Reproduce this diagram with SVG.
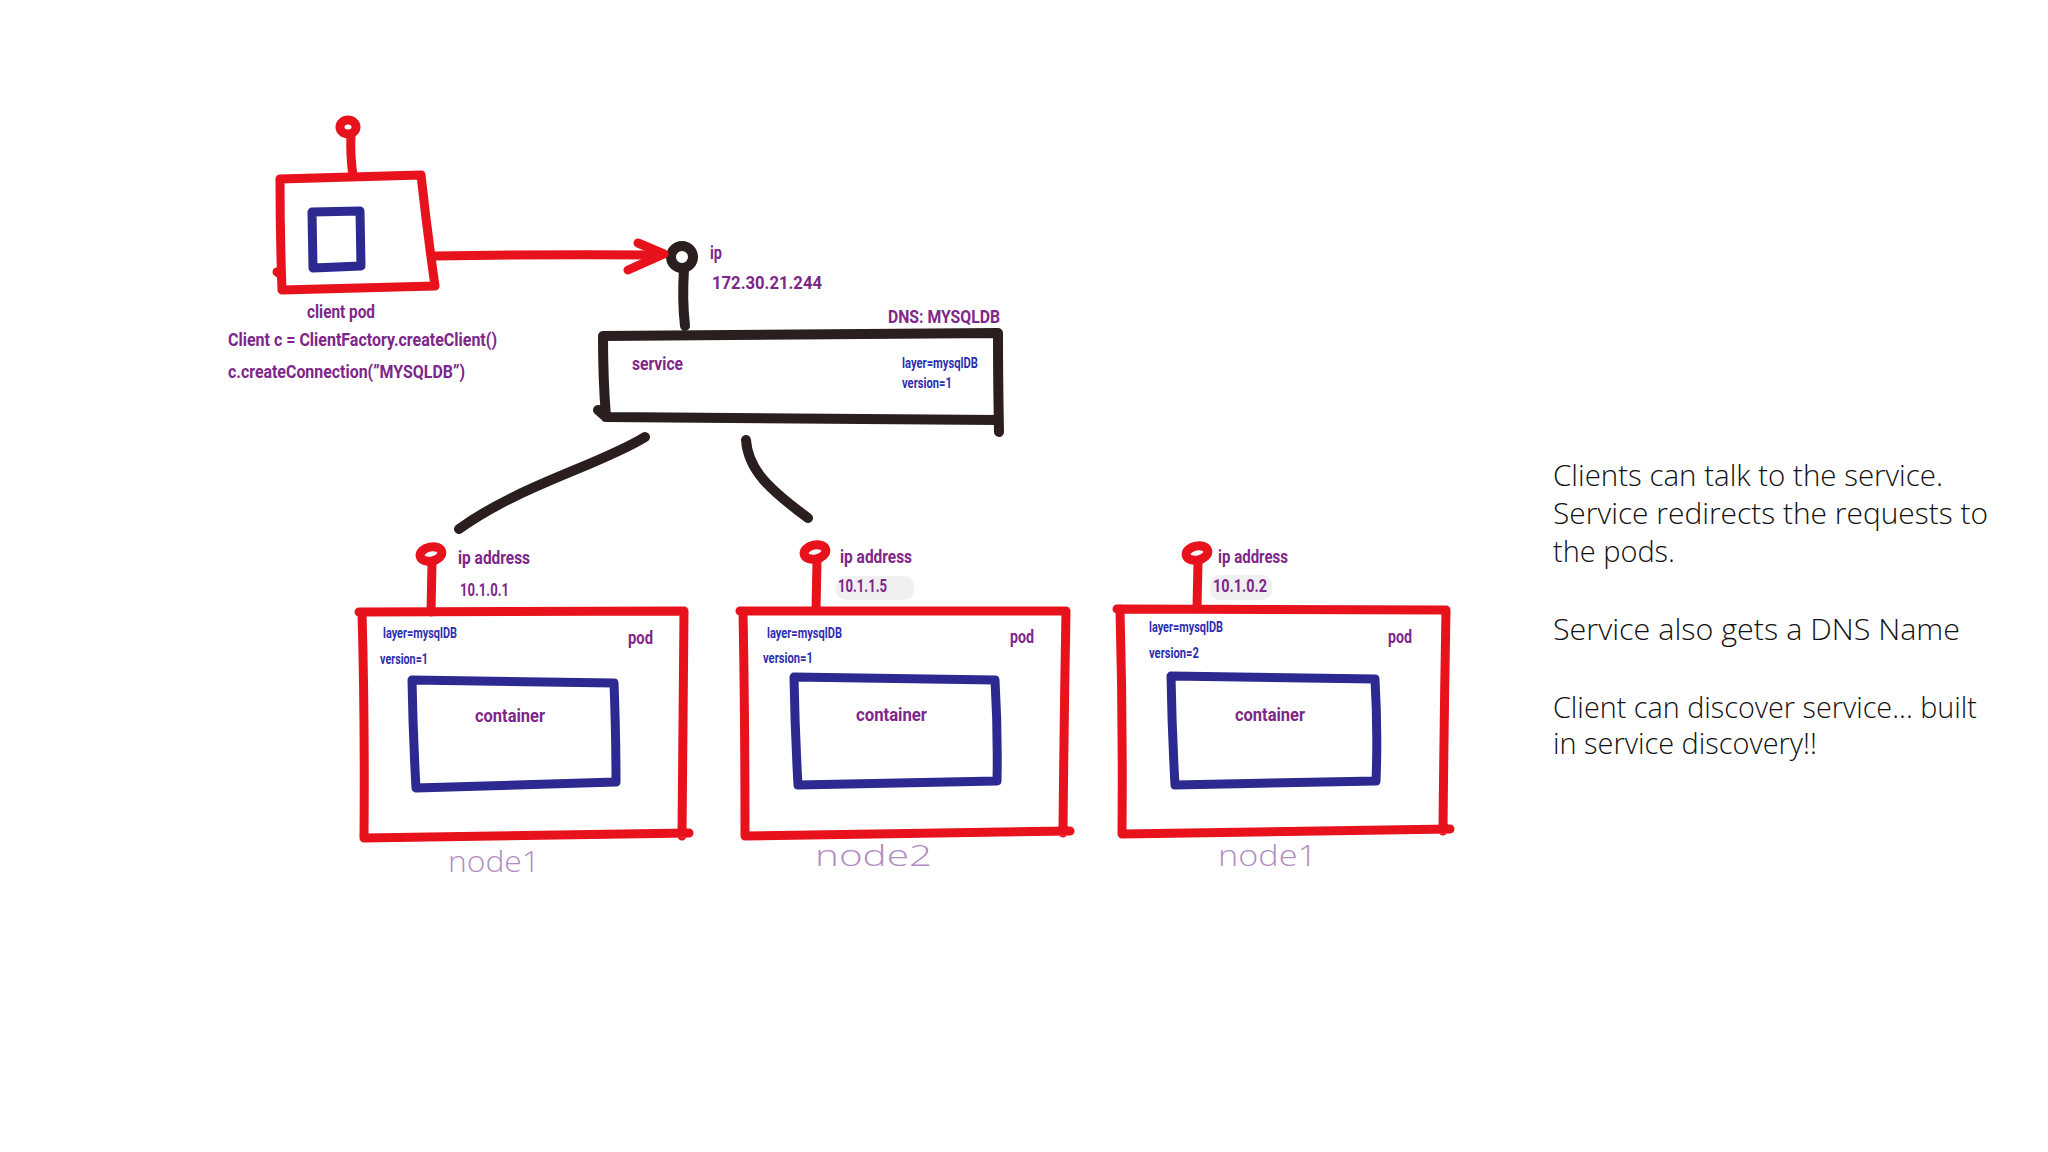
<svg xmlns="http://www.w3.org/2000/svg" width="2048" height="1152" viewBox="0 0 2048 1152">
<style>
.red{fill:none;stroke:#e8121c;stroke-width:9;stroke-linecap:round;stroke-linejoin:round}
.blk{fill:none;stroke:#2a1e1f;stroke-width:10;stroke-linecap:round;stroke-linejoin:round}
.blu{fill:none;stroke:#2c2a90;stroke-width:9;stroke-linecap:round;stroke-linejoin:round}
.lbl{font-family:Roboto,"Liberation Sans",sans-serif;font-weight:700;fill:#7e2689;font-size:18px}
.tag{font-family:Roboto,"Liberation Sans",sans-serif;font-weight:700;fill:#2d2eb0;font-size:14px}
.node{font-family:"Open Sans","DejaVu Sans",sans-serif;font-weight:300;fill:#b48cc4;font-size:30px}
.note{font-family:"Open Sans","DejaVu Sans",sans-serif;font-weight:300;fill:#111;font-size:29px}
.smudge{fill:#f0f0f1}
</style>
<rect width="2048" height="1152" fill="#ffffff"/>

<g id="client-pod">
  <ellipse class="red" cx="348" cy="127" rx="8" ry="7"/>
  <path class="red" d="M351,135 Q350,155 353,176"/>
  <path class="red" d="M280,179 L421,175 Q427,230 435,286 L282,290 Q280,235 280,179 Z M277,272 L281,275"/>
  <path class="blu" d="M312,212 L360,211 L361,266 L313,268 Z"/>
  <text class="lbl" x="307" y="318" textLength="68" lengthAdjust="spacingAndGlyphs">client pod</text>
  <text class="lbl" x="228" y="346" textLength="269" lengthAdjust="spacingAndGlyphs">Client c = ClientFactory.createClient()</text>
  <text class="lbl" x="228" y="378" textLength="237" lengthAdjust="spacingAndGlyphs">c.createConnection(”MYSQLDB”)</text>
</g>

<g id="service">
  <circle class="blk" cx="682" cy="257" r="11"/>
  <path class="blk" d="M684,269 Q682,300 685,326"/>
  <path class="blk" d="M603,336 L998,333 Q998,380 999,432 M998,420 L606,417 Q603,380 603,336 M598,410 L606,417"/>
  <text class="lbl" x="710" y="259" textLength="12" lengthAdjust="spacingAndGlyphs">ip</text>
  <text class="lbl" x="712" y="289" textLength="110" lengthAdjust="spacingAndGlyphs" font-size="20">172.30.21.244</text>
  <text class="lbl" x="888" y="323" textLength="112" lengthAdjust="spacingAndGlyphs" font-size="20">DNS: MYSQLDB</text>
  <text class="lbl" x="632" y="370" textLength="51" lengthAdjust="spacingAndGlyphs">service</text>
  <text class="tag" x="902" y="368" textLength="76" lengthAdjust="spacingAndGlyphs">layer=mysqlDB</text>
  <text class="tag" x="902" y="388" textLength="50" lengthAdjust="spacingAndGlyphs">version=1</text>
</g>

<g id="pod1">
  <ellipse class="red" cx="431" cy="554" rx="11" ry="7" transform="rotate(-12 431 554)"/>
  <path class="red" d="M432,563 L431,612"/>
  <path class="red" d="M359,612 L684,611 Q683,720 682,836 M689,833 L364,838 Q365,720 362,612"/>
  <path class="blu" d="M412,680 L614,683 Q616,735 616,782 L416,788 Q413,735 412,680 Z"/>
  <text class="lbl" x="458" y="564" textLength="72" lengthAdjust="spacingAndGlyphs">ip address</text>
  <text class="lbl" x="460" y="596" textLength="49" lengthAdjust="spacingAndGlyphs" font-size="19">10.1.0.1</text>
  <text class="tag" x="383" y="638" textLength="74" lengthAdjust="spacingAndGlyphs">layer=mysqlDB</text>
  <text class="tag" x="380" y="664" textLength="48" lengthAdjust="spacingAndGlyphs">version=1</text>
  <text class="lbl" x="628" y="644" textLength="25" lengthAdjust="spacingAndGlyphs">pod</text>
  <text class="lbl" x="475" y="722" textLength="70" lengthAdjust="spacingAndGlyphs">container</text>
  <text class="node" x="448" y="872" textLength="92" lengthAdjust="spacingAndGlyphs">node1</text>
</g>

<g id="pod2">
  <rect class="smudge" x="836" y="576" width="78" height="24" rx="10"/>
  <ellipse class="red" cx="815" cy="552" rx="11" ry="7" transform="rotate(-12 815 552)"/>
  <path class="red" d="M817,561 L816,610"/>
  <path class="red" d="M740,611 L1066,611 Q1064,720 1063,833 M1070,831 L745,836 Q745,720 743,611"/>
  <path class="blu" d="M794,677 L995,680 Q998,732 997,781 L798,785 Q795,732 794,677 Z"/>
  <text class="lbl" x="840" y="563" textLength="72" lengthAdjust="spacingAndGlyphs">ip address</text>
  <text class="lbl" x="838" y="592" textLength="49" lengthAdjust="spacingAndGlyphs" font-size="19">10.1.1.5</text>
  <text class="tag" x="767" y="638" textLength="75" lengthAdjust="spacingAndGlyphs">layer=mysqlDB</text>
  <text class="tag" x="763" y="663" textLength="50" lengthAdjust="spacingAndGlyphs">version=1</text>
  <text class="lbl" x="1010" y="643" textLength="24" lengthAdjust="spacingAndGlyphs">pod</text>
  <text class="lbl" x="856" y="721" textLength="71" lengthAdjust="spacingAndGlyphs">container</text>
  <text class="node" x="815" y="866" textLength="117" lengthAdjust="spacingAndGlyphs">node2</text>
</g>

<g id="pod3">
  <rect class="smudge" x="1210" y="575" width="62" height="25" rx="10"/>
  <ellipse class="red" cx="1197" cy="553" rx="11" ry="7" transform="rotate(-12 1197 553)"/>
  <path class="red" d="M1198,562 L1197,608"/>
  <path class="red" d="M1117,609 L1446,610 Q1444,720 1443,831 M1450,829 L1122,834 Q1123,720 1120,609"/>
  <path class="blu" d="M1171,676 L1375,679 Q1378,732 1376,781 L1175,785 Q1172,732 1171,676 Z"/>
  <text class="lbl" x="1218" y="563" textLength="70" lengthAdjust="spacingAndGlyphs">ip address</text>
  <text class="lbl" x="1213" y="592" textLength="54" lengthAdjust="spacingAndGlyphs" font-size="19">10.1.0.2</text>
  <text class="tag" x="1149" y="632" textLength="74" lengthAdjust="spacingAndGlyphs">layer=mysqlDB</text>
  <text class="tag" x="1149" y="658" textLength="50" lengthAdjust="spacingAndGlyphs">version=2</text>
  <text class="lbl" x="1388" y="643" textLength="24" lengthAdjust="spacingAndGlyphs">pod</text>
  <text class="lbl" x="1235" y="721" textLength="70" lengthAdjust="spacingAndGlyphs">container</text>
  <text class="node" x="1218" y="866" textLength="99" lengthAdjust="spacingAndGlyphs">node1</text>
</g>

<g id="connectors">
  <path class="red" d="M435,256 Q550,254 660,255"/>
  <path class="red" d="M638,243 L664,254 L628,270"/>
  <path class="blk" d="M645,437 C600,465 520,485 459,529"/>
  <path class="blk" d="M746,440 C748,470 770,490 808,518"/>
</g>

<g id="notes">
  <text class="note" x="1553" y="486" textLength="390" lengthAdjust="spacingAndGlyphs">Clients can talk to the service.</text>
  <text class="note" x="1553" y="524" textLength="435" lengthAdjust="spacingAndGlyphs">Service redirects the requests to</text>
  <text class="note" x="1553" y="562" textLength="122" lengthAdjust="spacingAndGlyphs">the pods.</text>
  <text class="note" x="1553" y="640" textLength="407" lengthAdjust="spacingAndGlyphs">Service also gets a DNS Name</text>
  <text class="note" x="1553" y="718" textLength="424" lengthAdjust="spacingAndGlyphs">Client can discover service... built</text>
  <text class="note" x="1553" y="754" textLength="264" lengthAdjust="spacingAndGlyphs">in service discovery!!</text>
</g>
</svg>
